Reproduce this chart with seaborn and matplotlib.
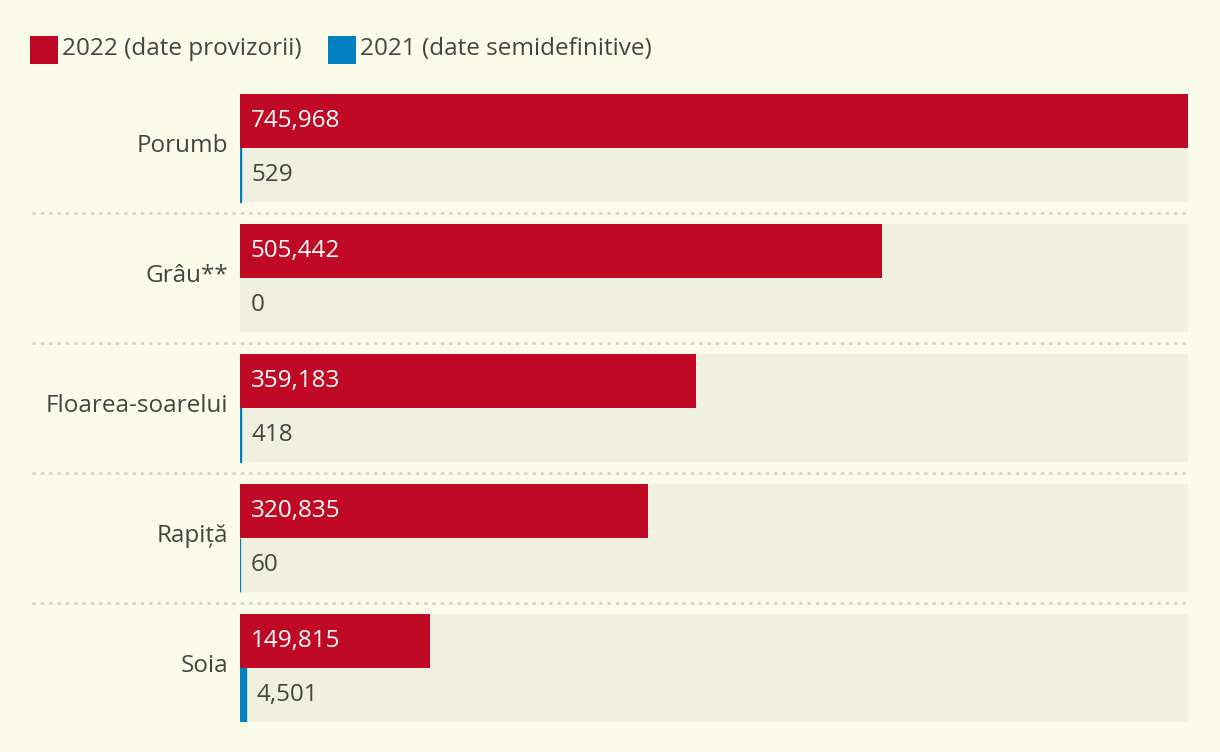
import matplotlib
matplotlib.use("Agg")
import matplotlib.pyplot as plt
import seaborn as sns
import pandas as pd
import matplotlib.transforms as mtrans
from matplotlib.patches import Rectangle

categories = ["Porumb", "Grâu**", "Floarea-soarelui", "Rapiță", "Soia"]
values_2022 = [745968, 505442, 359183, 320835, 149815]
values_2021 = [529, 0, 418, 60, 4501]
series_names = ["2022 (date provizorii)", "2021 (date semidefinitive)"]

BG = "#FAFBE9"
PANEL = "#F0F0E0"
RED = "#C00A25"
BLUE = "#0080C0"
TXT = "#444444"
FONT = ["Open Sans", "DejaVu Sans"]
FS = 17.5

sns.set_theme(style="white")
plt.rcParams["font.family"] = FONT

df = pd.DataFrame({
    "cat": categories * 2,
    "series": [series_names[0]] * len(categories) + [series_names[1]] * len(categories),
    "value": values_2022 + values_2021,
})
vmax = max(values_2022 + values_2021)
bg_df = pd.DataFrame({"cat": categories, "value": [vmax] * len(categories)})

W, H = 1220, 752
fig = plt.figure(figsize=(W / 100, H / 100), dpi=100, facecolor=BG)
left, right, top, bottom = 240, 1188, 94, 722
ax = fig.add_axes([left / W, (H - bottom) / H, (right - left) / W, (bottom - top) / H])
ax.set_facecolor(BG)

gw = 108 / 130
sns.barplot(data=bg_df, y="cat", x="value", order=categories, color=PANEL,
            width=gw, ax=ax, linewidth=0, saturation=1)
n_bg = len(ax.patches)
sns.barplot(data=df, y="cat", x="value", hue="series", order=categories,
            hue_order=series_names, palette=[RED, BLUE], width=gw, dodge=True,
            ax=ax, linewidth=0, saturation=1, legend=False)

bars = ax.patches[n_bg:]
for p in bars:
    if p.get_facecolor()[2] > 0.5 and p.get_width() > 0:
        p.set_edgecolor(BLUE)
        p.set_linewidth(1.0)

ax.set_xlim(0, vmax)
ax.set_ylim(len(categories) - 1 + gw / 2, -gw / 2)
for s in ax.spines.values():
    s.set_visible(False)
ax.set_xticks([])
ax.set_xlabel("")
ax.set_ylabel("")
ax.tick_params(axis="y", length=0, pad=8.5, labelsize=FS, labelcolor=TXT)
lift = mtrans.ScaledTranslation(0, 5 / 100, fig.dpi_scale_trans)
for lab in ax.get_yticklabels():
    lab.set_transform(lab.get_transform() + lift)

# value labels
off = mtrans.offset_copy(ax.transData, fig=fig, x=11 / 100 * 72, y=0, units="points")
for i, c in enumerate(categories):
    ax.text(0, i - gw / 4, f"{values_2022[i]:,}", transform=off, va="center", ha="left",
            color="white", fontsize=FS)
    ax.text(values_2021[i], i + gw / 4, f"{values_2021[i]:,}", transform=off,
            va="center", ha="left", color=TXT, fontsize=FS)

# dotted separators
x0 = (32 - left) / (right - left)
for i in range(len(categories) - 1):
    ax.axhline(i + 0.5, xmin=x0, xmax=1, color="#D6D6C8", linestyle=(0, (1.2, 1.8)),
               linewidth=2, clip_on=False)

# legend
def legend_item(x, color, label):
    fig.patches.append(Rectangle((x / W, (H - 64) / H), 28 / W, 28 / H,
                                 transform=fig.transFigure, facecolor=color, edgecolor="none"))
    fig.text((x + 32) / W, (H - 49) / H, label, va="center", ha="left",
             color=TXT, fontsize=FS)

legend_item(30, RED, series_names[0])
legend_item(328, BLUE, series_names[1])

fig.savefig("out.png", dpi=100, facecolor=BG)
